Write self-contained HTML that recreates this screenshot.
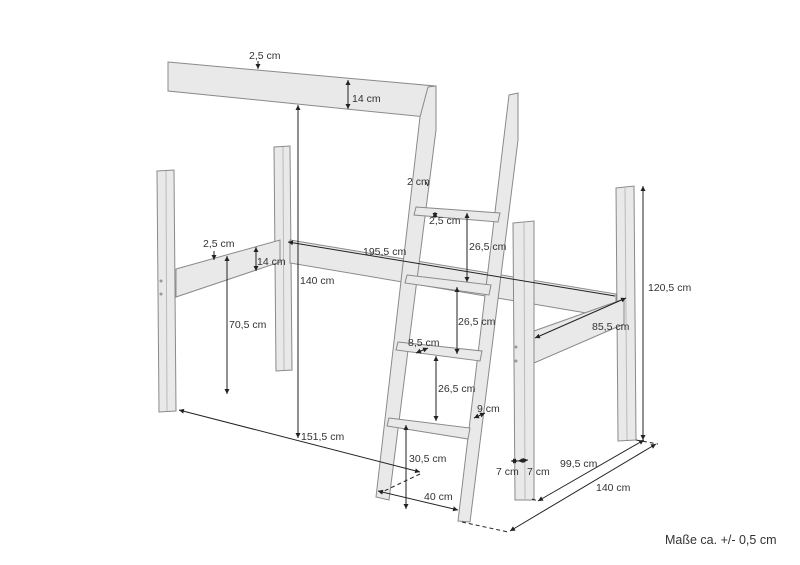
<!DOCTYPE html>
<html><head><meta charset="utf-8"><style>
body{margin:0;background:#fff;width:800px;height:565px;overflow:hidden}
svg{display:block}
text{font-family:"Liberation Sans",sans-serif;font-size:10.5px;fill:#333}
.p{fill:#e9e9e9;stroke:#8a8a8a;stroke-width:1}
.d{stroke:#222;stroke-width:1;fill:none}
.dd{stroke:#222;stroke-width:1;stroke-dasharray:4 3;fill:none}
</style></head><body>
<svg width="800" height="565" viewBox="0 0 800 565" xmlns="http://www.w3.org/2000/svg">
<defs><marker id="a" markerWidth="6" markerHeight="6" refX="5" refY="3" orient="auto-start-reverse"><path d="M0,0.5 L5,3 L0,5.5z" fill="#222"/></marker></defs>

<polygon class="p" points="274,147 290,146 292,370 276,371"/>
<line x1="283" y1="147" x2="284" y2="370" stroke="#bbb"/>
<polygon class="p" points="290,240 616,294 616,318 290,263"/>
<polygon class="p" points="616,188 634,186 636,440 618,441"/>
<line x1="625" y1="188" x2="627" y2="440" stroke="#bbb"/>
<polygon class="p" points="534,331 624,299 624,324 534,363"/>
<polygon class="p" points="513,223 534,221 534,500 515,500"/>
<line x1="524" y1="222" x2="525" y2="500" stroke="#bbb"/>
<circle cx="516" cy="347" r="1.5" fill="#999"/><circle cx="516" cy="361" r="1.5" fill="#999"/>
<polygon class="p" points="157,171 174,170 176,411 159,412"/>
<line x1="166" y1="171" x2="167" y2="411" stroke="#bbb"/>
<circle cx="161" cy="281" r="1.5" fill="#999"/><circle cx="161" cy="294" r="1.5" fill="#999"/>
<polygon class="p" points="176,269 280,240 280,262 176,297"/>

<polygon class="p" points="168,62 435,86 426,117 168,91"/>

<polygon class="p" points="428,87 436,86 436,130 389,500 376,497 420,117"/>
<polygon class="p" points="509,95 518,93 518,140 470,522 458,521"/>
<polygon class="p" points="416,207 500,213 498,222 414,215"/>
<polygon class="p" points="407,275 491,285 489,295 405,283"/>
<polygon class="p" points="398,342 482,351 480,361 396,350"/>
<polygon class="p" points="389,418 470,428 468,439 387,426"/>

<line class="d" x1="258" y1="61" x2="258" y2="69" marker-end="url(#a)"/>
<line class="d" x1="348" y1="80" x2="348" y2="109" marker-start="url(#a)" marker-end="url(#a)"/>
<line class="d" x1="298" y1="105" x2="298" y2="438" marker-start="url(#a)" marker-end="url(#a)"/>
<line class="d" x1="214" y1="251" x2="214" y2="260" marker-end="url(#a)"/>
<line class="d" x1="256" y1="247" x2="256" y2="271" marker-start="url(#a)" marker-end="url(#a)"/>
<line class="d" x1="227" y1="256" x2="227" y2="394" marker-start="url(#a)" marker-end="url(#a)"/>
<line class="d" x1="288" y1="242" x2="615" y2="296" marker-start="url(#a)"/>
<line class="d" x1="179" y1="410" x2="420" y2="472" marker-start="url(#a)" marker-end="url(#a)"/>
<line class="d" x1="467" y1="213" x2="467" y2="282" marker-start="url(#a)" marker-end="url(#a)"/>
<line class="d" x1="457" y1="287" x2="457" y2="354" marker-start="url(#a)" marker-end="url(#a)"/>
<line class="d" x1="436" y1="356" x2="436" y2="421" marker-start="url(#a)" marker-end="url(#a)"/>
<line class="d" x1="406" y1="425" x2="406" y2="509" marker-start="url(#a)" marker-end="url(#a)"/>
<line class="dd" x1="420" y1="474" x2="380" y2="493"/>
<line class="d" x1="378" y1="491" x2="458" y2="510" marker-start="url(#a)" marker-end="url(#a)"/>
<line class="dd" x1="462" y1="522" x2="508" y2="532"/>
<line class="d" x1="510" y1="531" x2="656" y2="444" marker-start="url(#a)" marker-end="url(#a)"/>
<line class="dd" x1="636" y1="440" x2="658" y2="444"/>
<line class="d" x1="538" y1="501" x2="644" y2="440" marker-start="url(#a)" marker-end="url(#a)"/>
<line class="dd" x1="532" y1="499" x2="538" y2="501"/>
<line class="d" x1="643" y1="186" x2="643" y2="440" marker-start="url(#a)" marker-end="url(#a)"/>
<line class="d" x1="535" y1="338" x2="626" y2="298" marker-start="url(#a)" marker-end="url(#a)"/>
<line class="d" x1="416" y1="353" x2="428" y2="348" marker-start="url(#a)" marker-end="url(#a)"/>
<line class="d" x1="474" y1="418" x2="485" y2="413" marker-start="url(#a)" marker-end="url(#a)"/>
<line class="d" x1="511" y1="461" x2="518" y2="461" marker-start="url(#a)" marker-end="url(#a)"/>
<line class="d" x1="518" y1="461" x2="528" y2="460" marker-start="url(#a)" marker-end="url(#a)"/>
<line class="d" x1="435" y1="212" x2="435" y2="218" marker-start="url(#a)" marker-end="url(#a)"/>
<line class="d" x1="426" y1="182" x2="428" y2="186" />

<text x="249" y="59">2,5 cm</text>
<text x="352" y="102">14 cm</text>
<text x="407" y="185">2 cm</text>
<text x="429" y="224">2,5 cm</text>
<text x="469" y="250">26,5 cm</text>
<text x="203" y="247">2,5 cm</text>
<text x="257" y="265">14 cm</text>
<text x="363" y="255">195,5 cm</text>
<text x="300" y="284">140 cm</text>
<text x="229" y="328">70,5 cm</text>
<text x="458" y="325">26,5 cm</text>
<text x="592" y="330">85,5 cm</text>
<text x="648" y="291">120,5 cm</text>
<text x="408" y="346">8,5 cm</text>
<text x="438" y="392">26,5 cm</text>
<text x="477" y="412">9 cm</text>
<text x="301" y="440">151,5 cm</text>
<text x="409" y="462">30,5 cm</text>
<text x="496" y="475">7 cm</text>
<text x="527" y="475">7 cm</text>
<text x="560" y="467">99,5 cm</text>
<text x="596" y="491">140 cm</text>
<text x="424" y="500">40 cm</text>
<text x="665" y="544" style="font-size:12.5px">Maße ca. +/- 0,5 cm</text>
</svg>
</body></html>
